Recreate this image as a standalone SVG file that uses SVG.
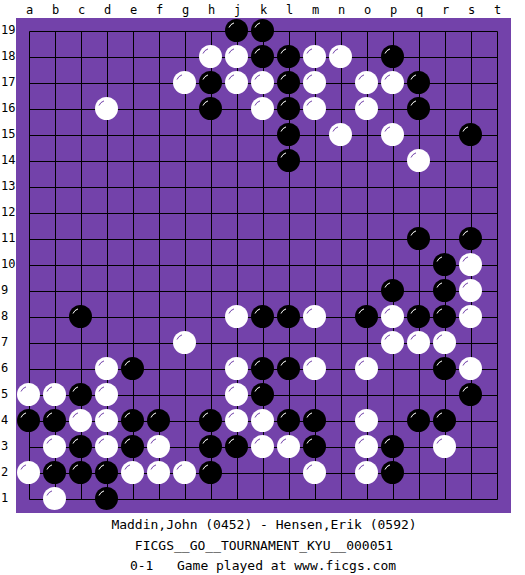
<svg xmlns="http://www.w3.org/2000/svg" xmlns:xlink="http://www.w3.org/1999/xlink" width="525" height="575" viewBox="0 0 525 575">
<style>
.lbl{font-family:"DejaVu Sans Mono","Liberation Mono",monospace;font-size:12px;fill:#000}
.col{text-anchor:middle}
.cap{font-family:"DejaVu Sans Mono","Liberation Mono",monospace;font-size:13px;fill:#000;text-anchor:middle}
.grid{stroke:#000;stroke-width:1;fill:none}
</style>
<defs>
<g id="B"><circle r="11.5" fill="#000"/><path d="M-7.5,-3 A8,8 0 0 1 -2.5,-7.6" stroke="#fff" stroke-width="1" fill="none"/></g>
<g id="W"><circle r="11.5" fill="#fff"/><path d="M-7.5,-3 A8,8 0 0 1 -2.5,-7.6" stroke="#7342AA" stroke-width="1" fill="none"/></g>
</defs>
<rect width="525" height="575" fill="#fff"/>
<rect id="board" x="16" y="18" width="495" height="495" fill="#7342AA"/>
<g id="connectors" class="grid">
<path d="M29.5,31.5V499.5M55.5,31.5V499.5M81.5,31.5V499.5M107.5,31.5V499.5M133.5,31.5V499.5M159.5,31.5V499.5M185.5,31.5V499.5M211.5,31.5V499.5M237.5,31.5V499.5M263.5,31.5V499.5M289.5,31.5V499.5M315.5,31.5V499.5M341.5,31.5V499.5M367.5,31.5V499.5M393.5,31.5V499.5M419.5,31.5V499.5M445.5,31.5V499.5M471.5,31.5V499.5M497.5,31.5V499.5"/>
<path d="M29.5,31.5H497.5M29.5,57.5H497.5M29.5,83.5H497.5M29.5,109.5H497.5M29.5,135.5H497.5M29.5,161.5H497.5M29.5,187.5H497.5M29.5,213.5H497.5M29.5,239.5H497.5M29.5,265.5H497.5M29.5,291.5H497.5M29.5,317.5H497.5M29.5,343.5H497.5M29.5,369.5H497.5M29.5,395.5H497.5M29.5,421.5H497.5M29.5,447.5H497.5M29.5,473.5H497.5M29.5,499.5H497.5"/>
</g>
<g id="col-labels" class="lbl col">
<text x="29.5" y="14">a</text><text x="55.5" y="14">b</text><text x="81.5" y="14">c</text><text x="107.5" y="14">d</text><text x="133.5" y="14">e</text><text x="159.5" y="14">f</text><text x="185.5" y="14">g</text><text x="211.5" y="14">h</text><text x="237.5" y="14">j</text><text x="263.5" y="14">k</text><text x="289.5" y="14">l</text><text x="315.5" y="14">m</text><text x="341.5" y="14">n</text><text x="367.5" y="14">o</text><text x="393.5" y="14">p</text><text x="419.5" y="14">q</text><text x="445.5" y="14">r</text><text x="471.5" y="14">s</text><text x="497.5" y="14">t</text>
</g>
<g id="row-labels" class="lbl">
<text x="1" y="33.5">19</text><text x="1" y="59.5">18</text><text x="1" y="85.5">17</text><text x="1" y="111.5">16</text><text x="1" y="137.5">15</text><text x="1" y="163.5">14</text><text x="1" y="189.5">13</text><text x="1" y="215.5">12</text><text x="1" y="241.5">11</text><text x="1" y="267.5">10</text><text x="1" y="293.5">9</text><text x="1" y="319.5">8</text><text x="1" y="345.5">7</text><text x="1" y="371.5">6</text><text x="1" y="397.5">5</text><text x="1" y="423.5">4</text><text x="1" y="449.5">3</text><text x="1" y="475.5">2</text><text x="1" y="501.5">1</text>
</g>
<g id="stones">
<!-- row 19 -->
<use href="#B" x="236.5" y="30.5"/><use href="#B" x="262.5" y="30.5"/>
<!-- row 18 -->
<use href="#W" x="210.5" y="56.5"/><use href="#W" x="236.5" y="56.5"/><use href="#B" x="262.5" y="56.5"/><use href="#B" x="288.5" y="56.5"/><use href="#W" x="314.5" y="56.5"/><use href="#W" x="340.5" y="56.5"/><use href="#B" x="392.5" y="56.5"/>
<!-- row 17 -->
<use href="#W" x="184.5" y="82.5"/><use href="#B" x="210.5" y="82.5"/><use href="#W" x="236.5" y="82.5"/><use href="#W" x="262.5" y="82.5"/><use href="#B" x="288.5" y="82.5"/><use href="#W" x="314.5" y="82.5"/><use href="#W" x="366.5" y="82.5"/><use href="#W" x="392.5" y="82.5"/><use href="#B" x="418.5" y="82.5"/>
<!-- row 16 -->
<use href="#W" x="106.5" y="108.5"/><use href="#B" x="210.5" y="108.5"/><use href="#W" x="262.5" y="108.5"/><use href="#B" x="288.5" y="108.5"/><use href="#W" x="314.5" y="108.5"/><use href="#W" x="366.5" y="108.5"/><use href="#B" x="418.5" y="108.5"/>
<!-- row 15 -->
<use href="#B" x="288.5" y="134.5"/><use href="#W" x="340.5" y="134.5"/><use href="#W" x="392.5" y="134.5"/><use href="#B" x="470.5" y="134.5"/>
<!-- row 14 -->
<use href="#B" x="288.5" y="160.5"/><use href="#W" x="418.5" y="160.5"/>
<!-- row 11 -->
<use href="#B" x="418.5" y="238.5"/><use href="#B" x="470.5" y="238.5"/>
<!-- row 10 -->
<use href="#B" x="444.5" y="264.5"/><use href="#W" x="470.5" y="264.5"/>
<!-- row 9 -->
<use href="#B" x="392.5" y="290.5"/><use href="#B" x="444.5" y="290.5"/><use href="#W" x="470.5" y="290.5"/>
<!-- row 8 -->
<use href="#B" x="80.5" y="316.5"/><use href="#W" x="236.5" y="316.5"/><use href="#B" x="262.5" y="316.5"/><use href="#B" x="288.5" y="316.5"/><use href="#W" x="314.5" y="316.5"/><use href="#B" x="366.5" y="316.5"/><use href="#W" x="392.5" y="316.5"/><use href="#B" x="418.5" y="316.5"/><use href="#B" x="444.5" y="316.5"/><use href="#W" x="470.5" y="316.5"/>
<!-- row 7 -->
<use href="#W" x="184.5" y="342.5"/><use href="#W" x="392.5" y="342.5"/><use href="#W" x="418.5" y="342.5"/><use href="#W" x="444.5" y="342.5"/>
<!-- row 6 -->
<use href="#W" x="106.5" y="368.5"/><use href="#B" x="132.5" y="368.5"/><use href="#W" x="236.5" y="368.5"/><use href="#B" x="262.5" y="368.5"/><use href="#B" x="288.5" y="368.5"/><use href="#W" x="314.5" y="368.5"/><use href="#W" x="366.5" y="368.5"/><use href="#B" x="444.5" y="368.5"/><use href="#W" x="470.5" y="368.5"/>
<!-- row 5 -->
<use href="#W" x="28.5" y="394.5"/><use href="#W" x="54.5" y="394.5"/><use href="#B" x="80.5" y="394.5"/><use href="#W" x="106.5" y="394.5"/><use href="#W" x="236.5" y="394.5"/><use href="#B" x="262.5" y="394.5"/><use href="#B" x="470.5" y="394.5"/>
<!-- row 4 -->
<use href="#B" x="28.5" y="420.5"/><use href="#B" x="54.5" y="420.5"/><use href="#W" x="80.5" y="420.5"/><use href="#W" x="106.5" y="420.5"/><use href="#B" x="132.5" y="420.5"/><use href="#B" x="158.5" y="420.5"/><use href="#B" x="210.5" y="420.5"/><use href="#W" x="236.5" y="420.5"/><use href="#W" x="262.5" y="420.5"/><use href="#B" x="288.5" y="420.5"/><use href="#B" x="314.5" y="420.5"/><use href="#W" x="366.5" y="420.5"/><use href="#B" x="418.5" y="420.5"/><use href="#B" x="444.5" y="420.5"/>
<!-- row 3 -->
<use href="#W" x="54.5" y="446.5"/><use href="#B" x="80.5" y="446.5"/><use href="#W" x="106.5" y="446.5"/><use href="#B" x="132.5" y="446.5"/><use href="#W" x="158.5" y="446.5"/><use href="#B" x="210.5" y="446.5"/><use href="#B" x="236.5" y="446.5"/><use href="#W" x="262.5" y="446.5"/><use href="#W" x="288.5" y="446.5"/><use href="#B" x="314.5" y="446.5"/><use href="#W" x="366.5" y="446.5"/><use href="#B" x="392.5" y="446.5"/><use href="#W" x="444.5" y="446.5"/>
<!-- row 2 -->
<use href="#W" x="28.5" y="472.5"/><use href="#B" x="54.5" y="472.5"/><use href="#B" x="80.5" y="472.5"/><use href="#B" x="106.5" y="472.5"/><use href="#W" x="132.5" y="472.5"/><use href="#W" x="158.5" y="472.5"/><use href="#W" x="184.5" y="472.5"/><use href="#B" x="210.5" y="472.5"/><use href="#W" x="314.5" y="472.5"/><use href="#W" x="366.5" y="472.5"/><use href="#B" x="392.5" y="472.5"/>
<!-- row 1 -->
<use href="#W" x="54.5" y="498.5"/><use href="#B" x="106.5" y="498.5"/>
</g>
<g id="caption" class="cap">
<text x="264" y="528.5" xml:space="preserve">Maddin,John (0452) - Hensen,Erik (0592)</text>
<text x="264" y="549.5" xml:space="preserve">FICGS__GO__TOURNAMENT_KYU__000051</text>
<text x="263" y="570" xml:space="preserve">0-1   Game played at www.ficgs.com</text>
</g>
</svg>
